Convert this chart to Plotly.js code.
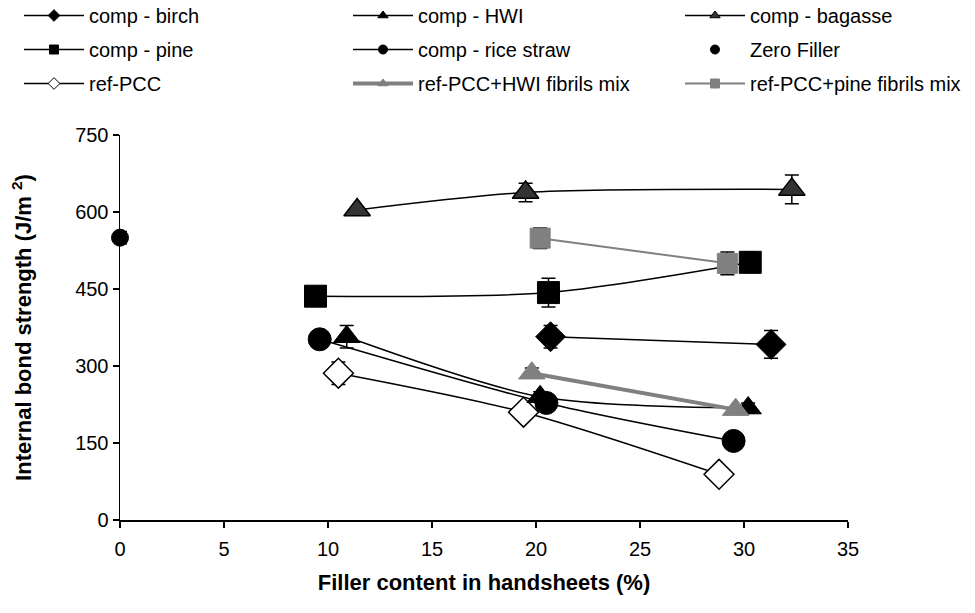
<!DOCTYPE html>
<html>
<head>
<meta charset="utf-8">
<script src="https://cdn.plot.ly/plotly-3.0.1.min.js"></script>
<style>html,body{margin:0;padding:0;background:#fff;}#chart{width:975px;height:613px;}</style>
</head>
<body>
<div id="chart"></div>
<script>
// ---- data ----
const birchX = [20.7, 31.3];
const birchY = [357, 342];
const birchErr = [22, 27];

const hwiX = [10.9, 20.2, 30.2];
const hwiY = [357, 240, 218];
const hwiErr = [22, 10, 10];

const bagasseX = [11.4, 19.5, 32.3];
const bagasseY = [604, 638, 644];
const bagasseErr = [5, 18, 28];

const pineX = [9.4, 20.6, 30.3];
const pineY = [436, 443, 502];
const pineErr = [5, 28, 20];

const riceX = [9.6, 20.5, 29.5];
const riceY = [352, 228, 154];
const riceErr = [8, 8, 8];

const zeroX = [0];
const zeroY = [550];
const zeroErr = [12];

const pccX = [10.5, 19.4, 28.8];
const pccY = [286, 210, 89];
const pccErr = [22, 8, 5];

const pccHwiX = [19.8, 29.6];
const pccHwiY = [286, 215];
const pccHwiErr = [10, 5];

const pccPineX = [20.2, 29.2];
const pccPineY = [549, 500];
const pccPineErr = [20, 22];

const xTicks = [0, 5, 10, 15, 20, 25, 30, 35];
const yTicks = [0, 150, 300, 450, 600, 750];

// ---- styling ----
const FONT = 'Liberation Sans, Arial, sans-serif';
const FS = 20;
const TFS = 22;
function err(arr){ return {type:'data', array:arr, visible:true, color:'#000', thickness:1.5, width:7}; }
const blackLine = {color:'#000', width:1.5, shape:'spline', smoothing:0.8};

// series definitions: [name, x, y, err, legend, line, marker(plot), mode]
const series = [
  ['comp - birch', birchX, birchY, birchErr, 'legend', blackLine, {symbol:'diamond', size:23, color:'#000', lc:'#000', lw:1}, 'lines+markers'],
  ['comp - pine', pineX, pineY, pineErr, 'legend', blackLine, {symbol:'square', size:22, color:'#000', lc:'#000', lw:1}, 'lines+markers'],
  ['ref-PCC', pccX, pccY, pccErr, 'legend', blackLine, {symbol:'diamond', size:23, color:'#fff', lc:'#000', lw:1.5}, 'lines+markers'],
  ['comp - HWI', hwiX, hwiY, hwiErr, 'legend2', blackLine, {symbol:'triangle-up', size:23, color:'#000', lc:'#000', lw:1}, 'lines+markers'],
  ['comp - rice straw', riceX, riceY, riceErr, 'legend2', blackLine, {symbol:'circle', size:23, color:'#000', lc:'#000', lw:1}, 'lines+markers'],
  ['ref-PCC+HWI fibrils mix', pccHwiX, pccHwiY, pccHwiErr, 'legend2', {color:'#808080', width:4}, {symbol:'triangle-up', size:23, color:'#808080', lc:'#808080', lw:1}, 'lines+markers'],
  ['comp - bagasse', bagasseX, bagasseY, bagasseErr, 'legend3', blackLine, {symbol:'triangle-up', size:23, color:'#333333', lc:'#000', lw:1.5}, 'lines+markers'],
  ['Zero Filler', zeroX, zeroY, zeroErr, 'legend3', blackLine, {symbol:'circle', size:17, color:'#000', lc:'#000', lw:1}, 'markers'],
  ['ref-PCC+pine fibrils mix', pccPineX, pccPineY, pccPineErr, 'legend3', {color:'#808080', width:2}, {symbol:'square', size:20, color:'#808080', lc:'#808080', lw:1}, 'lines+markers']
];

const traces = [];
// plotted data
series.forEach(s => {
  traces.push({
    type:'scatter', mode:s[7], name:s[0], x:s[1], y:s[2], error_y:err(s[3]),
    line:s[5], marker:{symbol:s[6].symbol, size:s[6].size, color:s[6].color, line:{color:s[6].lc, width:s[6].lw}},
    cliponaxis:false, showlegend:false
  });
});
// legend entries (small symbols like the reference legend)
series.forEach((s, i) => {
  const lw = s[5].width > 3 ? 4 : (s[5].width || 1.5);
  traces.push({
    type:'scatter', mode:s[7], name:s[0], x:[null], y:[null],
    line:{color:s[5].color, width:lw},
    marker:{symbol:s[6].symbol, size:9, color:s[6].color, line:{color:s[6].lc, width:1}},
    legend:s[4], legendgroup:'g'+i, showlegend:true, hoverinfo:'skip'
  });
});

function legendCfg(xpx){
  return {
    x:(xpx-120)/728, xanchor:'left', y:1 + 139/385, yanchor:'top',
    orientation:'v', bgcolor:'rgba(0,0,0,0)', borderwidth:0,
    font:{family:FONT, size:FS, color:'#000'},
    tracegroupgap:5, itemwidth:60, traceorder:'grouped'
  };
}

const layout = {
  width:975, height:613,
  margin:{l:120, r:127, t:135, b:93, autoexpand:false},
  paper_bgcolor:'#fff', plot_bgcolor:'#fff',
  font:{family:FONT, size:FS, color:'#000'},
  showlegend:true,
  legend:legendCfg(19),
  legend2:legendCfg(348),
  legend3:legendCfg(680),
  xaxis:{
    range:[0,35], tickvals:xTicks, ticktext:xTicks.map(String),
    showgrid:false, zeroline:false, showline:true, linecolor:'#000', linewidth:1.5,
    ticks:'outside', ticklen:6, tickwidth:1.5, tickcolor:'#000', ticklabelstandoff:4,
    tickfont:{family:FONT, size:FS, color:'#000'},
    title:{text:'<b>Filler content in handsheets (%)</b>', font:{family:FONT, size:TFS, color:'#000'}, standoff:16}
  },
  yaxis:{
    range:[0,750], tickvals:yTicks, ticktext:yTicks.map(String),
    showgrid:false, zeroline:false, showline:true, linecolor:'#000', linewidth:1.5,
    ticks:'outside', ticklen:6, tickwidth:1.5, tickcolor:'#000',
    tickfont:{family:FONT, size:FS, color:'#000'},
    title:{text:'<b>Internal bond strength (J/m <sup>2</sup>)</b>', font:{family:FONT, size:TFS, color:'#000'}, standoff:37}
  }
};

Plotly.newPlot('chart', traces, layout, {staticPlot:true, displayModeBar:false});
</script>
</body>
</html>
